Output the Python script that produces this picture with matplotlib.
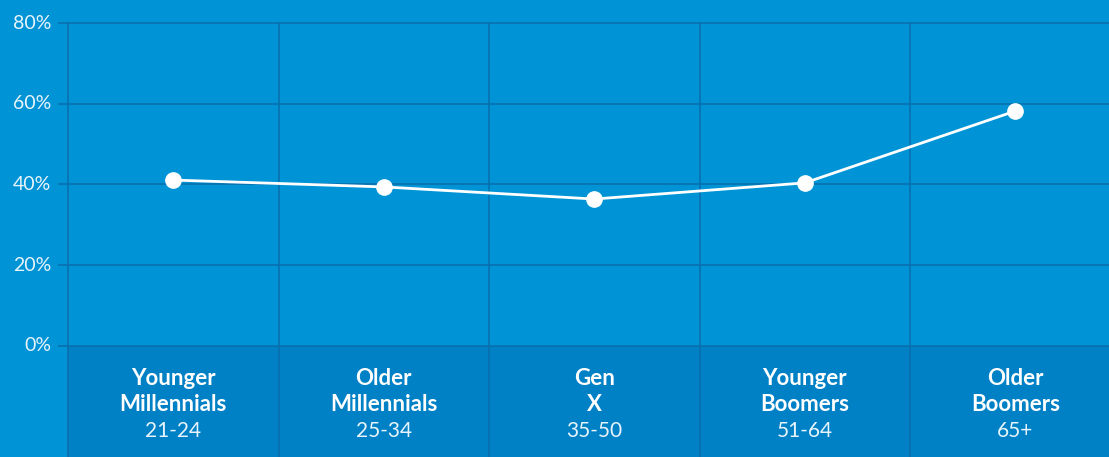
import matplotlib.pyplot as plt

# data
groups = ["Younger\nMillennials", "Older\nMillennials", "Gen\nX", "Younger\nBoomers", "Older\nBoomers"]
ages = ["21-24", "25-34", "35-50", "51-64", "65+"]
values = [41.1, 39.4, 36.4, 40.4, 58.2]
yticks = [0, 20, 40, 60, 80]

bg = "#0094d6"
band = "#0080c5"
grid = "#0a6fae"

fig = plt.figure(figsize=(11.09, 4.57), dpi=100, facecolor=bg)
ax = fig.add_axes([58 / 1109, 0, 1 - 58 / 1109, 1])
ax.set_facecolor(bg)

x = list(range(len(values)))
ax.set_xlim(-0.5475, 4.445)
ax.set_ylim(-27.5, 85.7)

# darker label band under the zero line
ax.fill_between([-0.5, 4.445], -27.5, 0, color=band, zorder=0, lw=0)

# grid lines
for t in yticks:
    ax.axhline(t, color=grid, lw=1.2, zorder=1)
for b in [i - 0.5 for i in range(len(values))]:
    ax.plot([b, b], [-27.5, 80], color=grid, lw=1.2, zorder=1)

ax.plot(x, values, color="white", lw=2, marker="o", markersize=11, zorder=3)

# y tick labels
for t in yticks:
    ax.text(-0.58, t, f"{t}%", ha="right", va="center", color="#e8f4fb",
            fontsize=14, family="Lato")

# category labels
for i, (g, a) in enumerate(zip(groups, ages)):
    ax.text(i, -11.2, g, ha="center", va="center", color="white", fontsize=16,
            family="Lato", fontweight="bold", linespacing=1.3)
    ax.text(i, -21.0, a, ha="center", va="center", color="#e8f4fb", fontsize=15,
            family="Lato")

ax.axis("off")
fig.savefig("out.png", dpi=100, facecolor=bg)
